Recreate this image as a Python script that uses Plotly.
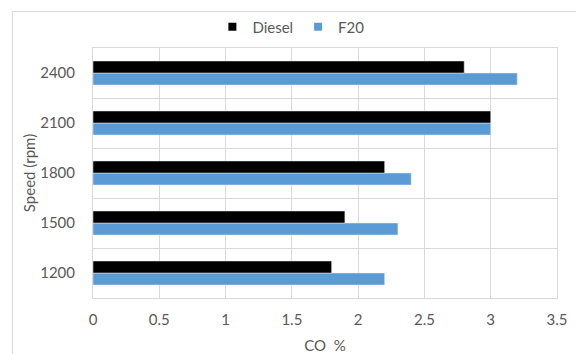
import plotly.graph_objects as go

# CO emission by engine speed for two fuels
speeds = ["1200", "1500", "1800", "2100", "2400"]
diesel = [1.8, 1.9, 2.2, 3.0, 2.8]
f20 = [2.2, 2.3, 2.4, 3.0, 3.2]
x_ticks = [0, 0.5, 1, 1.5, 2, 2.5, 3, 3.5]
x_tick_text = ["0", "0.5", "1", "1.5", "2", "2.5", "3", "3.5"]

W, H = 576, 354
L, R, T, B = 93, 19, 48, 56
FONT = "Lato, 'Open Sans', sans-serif"
TXT = "#595959"
GRID = "#d9d9d9"
C_DIESEL = "#000000"
C_F20 = "#5b9bd5"

fig = go.Figure()
# F20 first so Diesel sits above it within each group
fig.add_trace(go.Bar(y=speeds, x=f20, name="F20", orientation="h",
                     marker=dict(color=C_F20), showlegend=False))
fig.add_trace(go.Bar(y=speeds, x=diesel, name="Diesel", orientation="h",
                     marker=dict(color=C_DIESEL), showlegend=False))
# small square legend keys
fig.add_trace(go.Scatter(x=[None], y=[None], name="Diesel", mode="markers",
                         marker=dict(symbol="square", size=8, color=C_DIESEL)))
fig.add_trace(go.Scatter(x=[None], y=[None], name="F20", mode="markers",
                         marker=dict(symbol="square", size=8, color=C_F20)))

fig.update_layout(
    width=W, height=H,
    margin=dict(l=L, r=R, t=T, b=B, pad=0, autoexpand=False),
    paper_bgcolor="white", plot_bgcolor="white",
    barmode="group", bargap=0.52, bargroupgap=0,
    font=dict(family=FONT, size=15, color=TXT),
    legend=dict(orientation="h", traceorder="normal",
                x=0.505, xref="container", xanchor="center",
                y=1 - 27 / H, yref="container", yanchor="middle",
                font=dict(size=15, color=TXT),
                itemwidth=30, tracegroupgap=0,
                bgcolor="rgba(0,0,0,0)"),
    xaxis=dict(range=[0, 3.5], tickvals=x_ticks, ticktext=x_tick_text,
               showgrid=True, gridcolor=GRID, gridwidth=1,
               zeroline=False, showline=True, linecolor=GRID, mirror=True,
               ticks="", ticklabelstandoff=8, automargin=False,
               title=dict(text="CO  %", font=dict(size=15, color=TXT), standoff=13)),
    yaxis=dict(type="category", categoryorder="array", categoryarray=speeds,
               tickson="boundaries", showgrid=True, gridcolor=GRID, gridwidth=1,
               showline=True, linecolor=GRID, mirror=True,
               ticks="", ticklabelstandoff=14, automargin=False,
               title=dict(text="Speed (rpm)", font=dict(size=15, color=TXT), standoff=0)),
)

# chart frame
fig.add_shape(type="rect", xref="paper", yref="paper",
              x0=(12.5 - L) / (W - L - R), x1=(W + 5 - L) / (W - L - R),
              y0=-(H + 5 - (H - B)) / (H - T - B), y1=1 + (T - 11.5) / (H - T - B),
              line=dict(color="#d9d9d9", width=1), layer="below")

fig.write_html("out.html")
